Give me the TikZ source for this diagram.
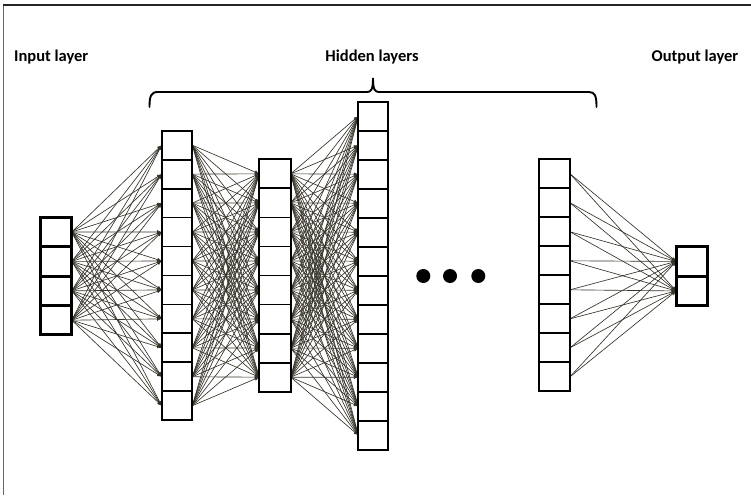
\documentclass[tikz,border=0pt]{standalone}
\usepackage{fontspec}
\setmainfont{Carlito}
\usetikzlibrary{arrows.meta}
\pgfdeclarelayer{background}
\pgfsetlayers{background,main}
\definecolor{wire}{HTML}{353228}
\tikzset{
  cell/.style={draw=black, fill=white, line width=1.8pt, inner sep=0pt, outer sep=0pt},
  thickcell/.style={cell, line width=3pt},
  wirearrow/.style={draw=wire, line width=0.65pt, -{Latex[length=4.5pt,width=3.8pt]}},
  label/.style={font=\bfseries\fontsize{16.5}{19}\selectfont, inner sep=0pt, anchor=base},
}
\begin{document}
\begin{tikzpicture}[x=1pt,y=-1pt]
\useasboundingbox (0,0) rectangle (751,495);
% frame
\draw[color=black!60, line width=1.3pt] (3.5,495) -- (3.5,5);
\draw[color=black!85, line width=1.3pt] (3,5) -- (751,5);
% labels
\node[label, anchor=base west] (tin) at (14,61) {Input layer};
\node[label] (thid) at (372,61) {Hidden layers};
\node[label, anchor=base west] (tout) at (651.5,61) {Output layer};
% brace
\draw[line width=1.9pt, line cap=round]
  (149.5,107) .. controls (149.5,96) and (151,92) .. (158,92) -- (367,92)
  .. controls (371,92) and (373,90) .. (373,78)
  .. controls (373,90) and (375,92) .. (379,92) -- (589,92)
  .. controls (595,92) and (596.5,96) .. (596.5,107);
% cells
\foreach \i in {1,...,4}
  \node[thickcell, minimum width=31.5pt, minimum height=29.4pt] (in\i) at (56,{217.3+(\i-0.5)*29.4}) {};
\foreach \i in {1,...,10}
  \node[cell, minimum width=30.6pt, minimum height=28.95pt] (a\i) at (177,{130.7+(\i-0.5)*28.95}) {};
\foreach \i in {1,...,8}
  \node[cell, minimum width=31.5pt, minimum height=29.05pt] (b\i) at (275,{159.3+(\i-0.5)*29.05}) {};
\foreach \i in {1,...,12}
  \node[cell, minimum width=30pt, minimum height=29pt] (c\i) at (373.3,{101.7+(\i-0.5)*29}) {};
\foreach \i in {1,...,8}
  \node[cell, minimum width=31pt, minimum height=29pt] (d\i) at (554.5,{159.3+(\i-0.5)*29}) {};
\foreach \i in {1,2}
  \node[thickcell, minimum width=31.7pt, minimum height=29.5pt] (o\i) at (692,{246.7+(\i-0.5)*29.5}) {};
% dots
\fill (423.3,276) circle (7pt);
\fill (450,276) circle (7pt);
\fill (478.3,276) circle (7pt);
% connections
\begin{pgfonlayer}{background}
\foreach \i in {1,...,4}
  \foreach \j in {1,...,10}
    \draw[wirearrow] (in\i.east) -- (a\j.west);
\foreach \i in {1,...,10}
  \foreach \j in {1,...,8}
    \draw[wirearrow] (a\i.east) -- (b\j.west);
\foreach \i in {1,...,8}
  \foreach \j in {1,...,12}
    \draw[wirearrow] (b\i.east) -- (c\j.west);
\foreach \i in {1,...,8}
  \foreach \j in {1,2}
    \draw[wirearrow] (d\i.east) -- (o\j.west);
\end{pgfonlayer}
\end{tikzpicture}
\end{document}
